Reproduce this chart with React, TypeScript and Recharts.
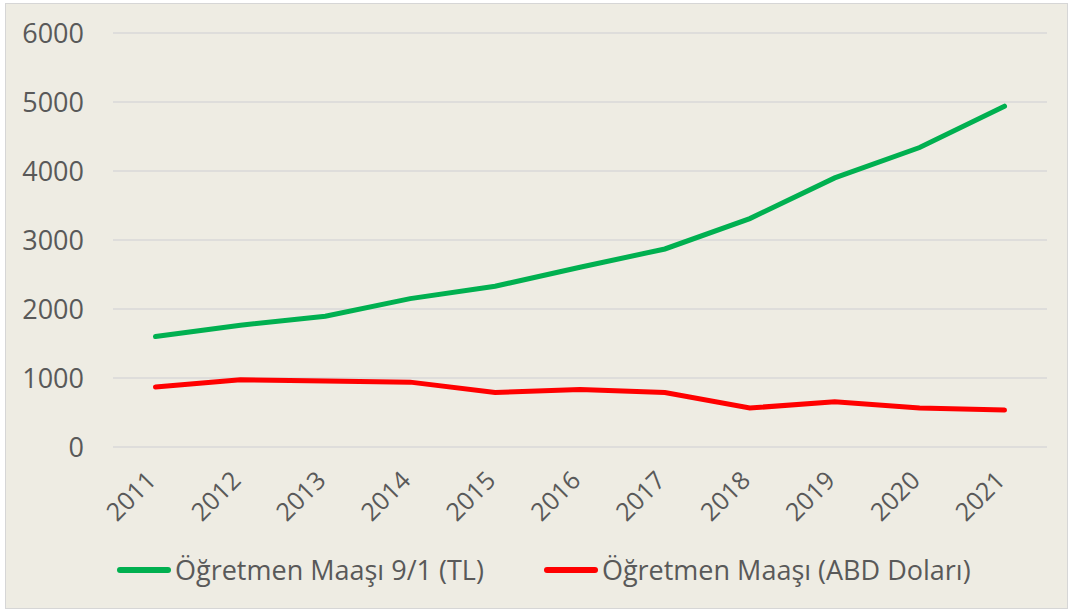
import React from 'react';
import { LineChart, Line, XAxis, YAxis, CartesianGrid, Legend } from 'recharts';

const years = ['2011', '2012', '2013', '2014', '2015', '2016', '2017', '2018', '2019', '2020', '2021'];
const salaryTL = [1600, 1765, 1895, 2150, 2330, 2605, 2870, 3310, 3900, 4340, 4940];
const salaryUSD = [870, 975, 955, 940, 790, 833, 790, 565, 655, 565, 535];
const yTicks = [0, 1000, 2000, 3000, 4000, 5000, 6000];
const seriesNames = ['Öğretmen Maaşı 9/1 (TL)', 'Öğretmen Maaşı (ABD Doları)'];
const seriesColors = ['#00B050', '#FF0000'];

const data = years.map((y, i) => ({ year: y, tl: salaryTL[i], usd: salaryUSD[i] }));

const FONT = '"Open Sans", sans-serif';
const TEXT = '#595959';

const XTick = (props: any) => {
  const { x, y, payload } = props;
  const ax = x + 2;
  const ay = y + 35;
  return (
    <text
      x={ax}
      y={ay}
      transform={`rotate(-45, ${ax}, ${ay})`}
      textAnchor="end"
      fill={TEXT}
      fontSize={25}
      fontFamily={FONT}
    >
      {payload.value}
    </text>
  );
};

const LegendContent = () => (
  <div style={{ display: 'flex', alignItems: 'center', paddingLeft: 117, fontFamily: FONT, fontSize: 27, color: TEXT, whiteSpace: 'nowrap' }}>
    {seriesNames.map((n, i) => (
      <div key={n} style={{ display: 'flex', alignItems: 'center', marginRight: i === 0 ? 60 : 0 }}>
        <div style={{ width: 54, height: 6, borderRadius: 3, background: seriesColors[i], marginRight: 4 }} />
        <span>{n}</span>
      </div>
    ))}
  </div>
);

export default function App() {
  return (
    <div style={{ position: 'absolute', left: 0, top: 0, width: 1068, height: 613, background: '#ffffff' }}>
      <div style={{ position: 'absolute', left: 5, top: 3, width: 1061, height: 604, background: '#EEECE3', border: '1px solid #D6D6D6' }} />
      <div style={{ position: 'absolute', left: 0, top: 0 }}>
        <LineChart width={1068} height={613} data={data} margin={{ top: 33, right: 21, left: 0, bottom: 0 }}>
          <CartesianGrid vertical={false} stroke="#D9D9D9" strokeWidth={1.5} />
          <XAxis
            dataKey="year"
            axisLine={false}
            tickLine={false}
            tickSize={0}
            tickMargin={0}
            height={166}
            interval={0}
            padding={{ left: 42.5, right: 42.5 }}
            tick={<XTick />}
          />
          <YAxis
            domain={[0, 6000]}
            ticks={yTicks}
            axisLine={false}
            tickLine={false}
            tickSize={0}
            tickMargin={29}
            width={113}
            tick={{ fill: TEXT, fontSize: 27, fontFamily: FONT }}
          />
          <Legend
            verticalAlign="middle"
            align="center"
            layout="horizontal"
            wrapperStyle={{ top: 551, left: 0, width: 1068 }}
            content={<LegendContent />}
          />
          <Line type="linear" dataKey="tl" name={seriesNames[0]} stroke={seriesColors[0]} strokeWidth={5} dot={false} isAnimationActive={false} strokeLinecap="round" />
          <Line type="linear" dataKey="usd" name={seriesNames[1]} stroke={seriesColors[1]} strokeWidth={5} dot={false} isAnimationActive={false} strokeLinecap="round" />
        </LineChart>
      </div>
    </div>
  );
}
